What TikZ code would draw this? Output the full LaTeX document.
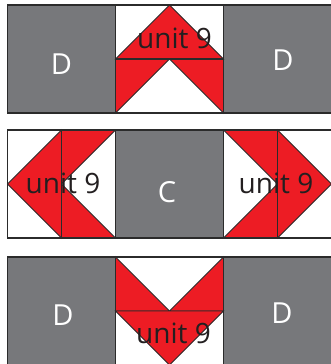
\documentclass[tikz,border=0pt]{standalone}
\usepackage{fontspec}
\setmainfont{Open Sans}
\definecolor{qgray}{HTML}{77787B}
\definecolor{qred}{HTML}{ED1C24}
\definecolor{qline}{HTML}{2B2B2B}
\definecolor{qtext}{HTML}{231F20}
\tikzset{
  blk/.style={fill=qgray,draw=qline,line width=1.1pt},
  wsq/.style={fill=white,draw=qline,line width=1.1pt},
  rtri/.style={fill=qred,draw=qline,line width=0.9pt,line join=miter},
  unitlbl/.style={font=\fontsize{28}{30}\selectfont,text=qtext,inner sep=0pt},
  letter/.style={font=\fontsize{29}{30}\selectfont,text=white,inner sep=0pt}
}
\begin{document}
\begin{tikzpicture}[x=1pt,y=-1pt]
\useasboundingbox (0,0) rectangle (330,364);
% ---------- top row (y 5..113)
\draw[blk] (7.5,5) rectangle (115.5,113);
\draw[blk] (223.5,5) rectangle (331.5,113);
\draw[wsq] (115.5,5) rectangle (223.5,113);
\draw[rtri] (115.5,59) -- (169.5,5) -- (223.5,59) -- cycle;
\draw[rtri] (115.5,59) -- (169.5,59) -- (115.5,113) -- cycle;
\draw[rtri] (223.5,59) -- (169.5,59) -- (223.5,113) -- cycle;
\draw[qline,line width=1.1pt] (115.5,59) -- (223.5,59);
\draw[qline,line width=1.1pt] (115.5,5) rectangle (223.5,113);
\node[letter] (d1) at (61.5,64) {D};
\node[letter] (d2) at (283,60) {D};
\node[unitlbl] (u1) at (174.5,38) {unit 9};
% ---------- middle row (y 130..238)
\draw[wsq] (7.5,130) rectangle (115.5,238);
\draw[blk] (115.5,130) rectangle (223.5,238);
\draw[wsq] (223.5,130) rectangle (331.5,238);
% left geese pointing left
\draw[rtri] (61.5,130) -- (7.5,184) -- (61.5,238) -- cycle;
\draw[rtri] (61.5,130) -- (115.5,130) -- (61.5,184) -- cycle;
\draw[rtri] (61.5,184) -- (115.5,238) -- (61.5,238) -- cycle;
\draw[qline,line width=1.1pt] (61.5,130) -- (61.5,238);
% right geese pointing right
\draw[rtri] (277.5,130) -- (331.5,184) -- (277.5,238) -- cycle;
\draw[rtri] (277.5,130) -- (223.5,130) -- (277.5,184) -- cycle;
\draw[rtri] (277.5,184) -- (223.5,238) -- (277.5,238) -- cycle;
\draw[qline,line width=1.1pt] (277.5,130) -- (277.5,238);
\draw[qline,line width=1.1pt] (7.5,130) rectangle (331.5,238);
\draw[qline,line width=1.1pt] (115.5,130) -- (115.5,238) (223.5,130) -- (223.5,238);
\node[unitlbl] (u2) at (63,183) {unit 9};
\node[letter] (c1) at (167,192) {C};
\node[unitlbl] (u3) at (276,183) {unit 9};
% ---------- bottom row (y 257..365)
\draw[blk] (7.5,257) rectangle (115.5,365);
\draw[blk] (223.5,257) rectangle (331.5,365);
\draw[wsq] (115.5,257) rectangle (223.5,365);
\draw[rtri] (115.5,257) -- (169.5,311) -- (115.5,311) -- cycle;
\draw[rtri] (223.5,257) -- (169.5,311) -- (223.5,311) -- cycle;
\draw[rtri] (115.5,311) -- (223.5,311) -- (169.5,365) -- cycle;
\draw[qline,line width=1.1pt] (115.5,257) rectangle (223.5,365);
\node[letter] (d3) at (63,315) {D};
\node[letter] (d4) at (282,313) {D};
\node[unitlbl] (u4) at (173.5,333) {unit 9};
\end{tikzpicture}
\end{document}
